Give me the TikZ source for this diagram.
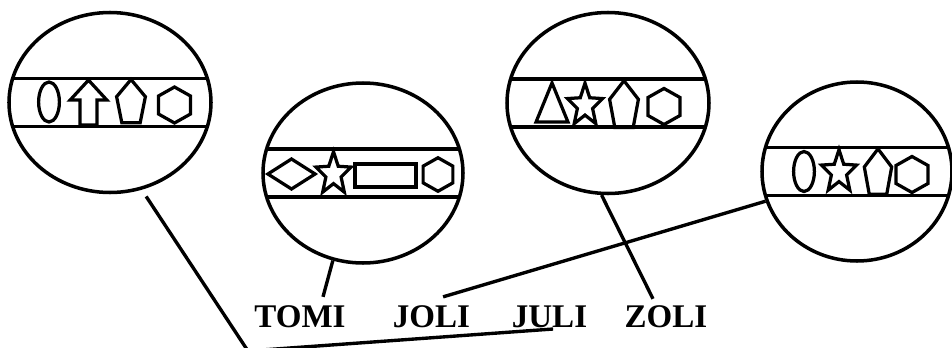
\documentclass[tikz,border=0pt]{standalone}
\usepackage{fontspec}
\setmainfont{Liberation Serif}
\usetikzlibrary{shapes.geometric}

\begin{document}
\begin{tikzpicture}[
    band/.style={line width=2.8pt},
    glyph/.style={line width=2.3pt, line join=miter},
    link/.style={line width=2.4pt},
    lens/.style={ellipse, draw, line width=2.5pt, inner sep=0pt,
      path picture={
        \draw[band] ([yshift=0.6cm]path picture bounding box.west)
          -- ([yshift=0.6cm]path picture bounding box.east);
        \draw[band] ([yshift=-0.6cm]path picture bounding box.west)
          -- ([yshift=-0.6cm]path picture bounding box.east);
      }},
    kidname/.style={inner sep=0pt, anchor=base,
      font=\bfseries\fontsize{23.5}{28}\selectfont},
    ovalmark/.pic={\draw[glyph] (0,0) ellipse [x radius=0.26, y radius=0.5];},
    arrowmark/.pic={\draw[glyph] (0,0.56) -- (0.46,0.06) -- (0.21,0.06)
      -- (0.21,-0.56) -- (-0.21,-0.56) -- (-0.21,0.06) -- (-0.46,0.06) -- cycle;},
    pentamark/.pic={\draw[glyph] (0,0.55) -- (0.36,0.12) -- (0.23,-0.53)
      -- (-0.23,-0.53) -- (-0.36,0.12) -- cycle;},
    hexamark/.pic={\draw[glyph] (0,0.45) -- (0.4,0.225) -- (0.4,-0.225)
      -- (0,-0.45) -- (-0.4,-0.225) -- (-0.4,0.225) -- cycle;},
    starmark/.pic={\draw[glyph] (90:0.46 and 0.56)
      \foreach \k in {0,...,3} {-- ({126+72*\k}:0.2 and 0.24) -- ({162+72*\k}:0.46 and 0.56)}
      -- (54:0.2 and 0.24) -- cycle;},
    rhombmark/.pic={\draw[glyph] (0.59,0) -- (0,0.375) -- (-0.59,0) -- (0,-0.375) -- cycle;},
    slabmark/.pic={\draw[glyph] (-0.76,-0.29) rectangle (0.76,0.29);},
    trimark/.pic={\draw[glyph] (0,0.49) -- (0.4,-0.49) -- (-0.4,-0.49) -- cycle;}
  ]
  \useasboundingbox (0,0) rectangle (23.8,8.675);
  \clip (0,0) rectangle (23.8,8.675);

  % the four lenses
  \node[lens, minimum width=5.05cm, minimum height=4.5cm] (c1) at (2.75,6.1125) {};
  \node[lens, minimum width=5cm, minimum height=4.5cm] (c2) at (9.075,4.35) {};
  \node[lens, minimum width=5.05cm, minimum height=4.525cm] (c3) at (15.2,6.1) {};
  \node[lens, minimum width=4.75cm, minimum height=4.475cm] (c4) at (21.425,4.3875) {};

  % marks in the bands
  \pic at (1.225,6.125) {ovalmark};
  \pic at (2.2125,6.1125) {arrowmark};
  \pic at (3.275,6.1375) {pentamark};
  \pic at (4.3625,6.05) {hexamark};

  \pic at (7.2875,4.325) {rhombmark};
  \pic at (8.3375,4.325) {starmark};
  \pic at (9.6375,4.2875) {slabmark};
  \pic[scale=0.93] at (10.95,4.3125) {hexamark};

  \pic at (13.8,6.1125) {trimark};
  \pic at (14.625,6.0375) {starmark};
  \pic[yscale=1.08] at (15.6,6.0625) {pentamark};
  \pic at (16.6,6.0125) {hexamark};

  \pic at (20.1,4.3875) {ovalmark};
  \pic at (20.975,4.375) {starmark};
  \pic[xscale=0.95, yscale=1.05] at (21.95,4.375) {pentamark};
  \pic at (22.8,4.3125) {hexamark};

  % names
  \node[kidname] (tomi) at (7.5,0.5) {TOMI};
  \node[kidname] (joli) at (10.7875,0.5) {JOLI};
  \node[kidname] (juli) at (13.7375,0.5) {JULI};
  \node[kidname] (zoli) at (16.65,0.5) {ZOLI};

  \coordinate (bend) at (6.2,-0.1);

  \draw[link, shorten <=0.2cm] (c1.290) -- (bend) -- ([xshift=0.09cm,yshift=-0.05cm]juli.base);
  \draw[link] (c2.251) -- ([xshift=0.575cm,yshift=0.2cm]tomi.north);
  \draw[link] (c4.198) -- ([xshift=0.29cm,yshift=0.2cm]joli.north);
  \draw[link] (c3.266) -- ([xshift=-0.325cm,yshift=0.15cm]zoli.north);
\end{tikzpicture}
\end{document}
